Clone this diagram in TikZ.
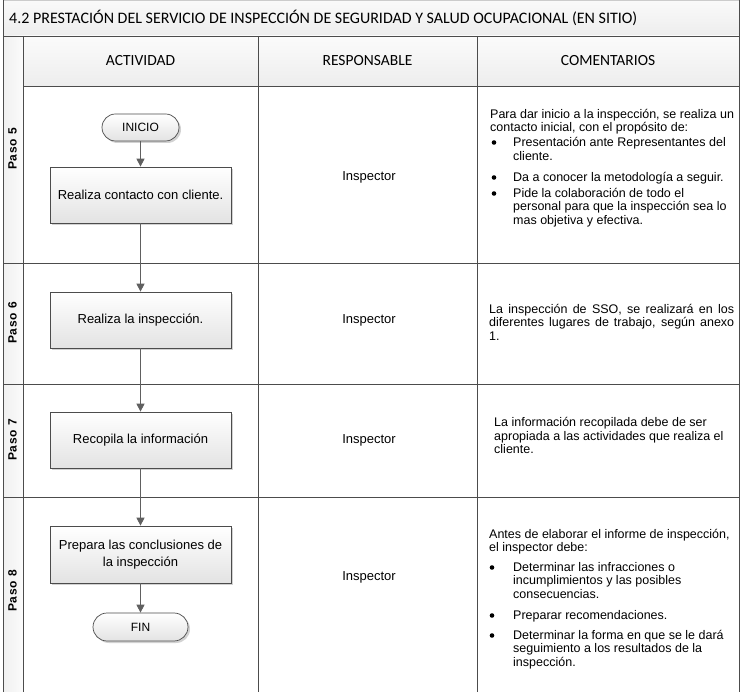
\documentclass[tikz,border=0pt]{standalone}
\usepackage{fontspec}
\setmainfont{Liberation Sans}
\newfontfamily\calib{Carlito}
\newfontfamily\pasof[LetterSpace=6]{Liberation Sans Bold}
\usetikzlibrary{arrows.meta,shadows}
\begin{document}
\begin{tikzpicture}[x=1pt,y=-1pt,
  grid/.style={draw=gray!60!black, line width=0.9pt},
  procbox/.style={draw=gray!60!black, line width=0.7pt, top color=white, bottom color=gray!22,
    minimum width=181pt, minimum height=56pt, inner sep=2pt, align=center,
    font=\fontsize{13}{17}\selectfont,
    drop shadow={shadow xshift=2pt, shadow yshift=-2pt, opacity=0.35, fill=gray}},
  termbox/.style={procbox, rounded corners=13.5pt, minimum height=27pt, font=\fontsize{12}{14}\selectfont},
  flow/.style={draw=gray!75!black, line width=0.9pt, -{Triangle[length=8pt,width=8pt]}},
  hdr/.style={font=\calib\fontsize{15.5}{17}\selectfont, inner sep=0pt},
  ttl/.style={font=\calib\fontsize{16}{18}\selectfont, inner sep=0pt},
  resp/.style={font=\fontsize{13}{15}\selectfont, inner sep=0pt},
  paso/.style={font=\pasof\fontsize{12}{14}\selectfont, rotate=90, inner sep=0pt},
  cl/.style={font=\fontsize{12.5}{14}\selectfont, inner sep=0pt, anchor=base west},
  bl/.style={circle, fill=black, inner sep=0pt, minimum size=4.6pt},
]
\useasboundingbox (0,0) rectangle (742,692);
\fill[white] (0,0) rectangle (742,692);

% backgrounds
\shade[top color=gray!4, bottom color=gray!14] (3.5,0.5) rectangle (739.5,36);
\shade[top color=gray!3, bottom color=gray!14] (23,36) rectangle (739.5,86);
\foreach \a/\b in {36/263,263/384,384/497,497/692}
  \shade[left color=gray!12, right color=gray!3] (3.5,\a) rectangle (23,\b);

% grid
\draw[grid, draw=gray!40] (3.5,0.5) -- (739.5,0.5);
\draw[grid] (3.5,0) -- (3.5,692);
\draw[grid] (739.5,0) -- (739.5,692);
\draw[grid] (23,36) -- (23,692);
\draw[grid] (258,36) -- (258,692);
\draw[grid] (477,36) -- (477,692);
\draw[grid] (3.5,36) -- (739.5,36);
\draw[grid] (23,86) -- (739.5,86);
\draw[grid] (3.5,263) -- (739.5,263);
\draw[grid] (3.5,384) -- (739.5,384);
\draw[grid] (3.5,497) -- (739.5,497);

% title and headers
\node[ttl, anchor=west] (title) at (9,18) {4.2 PRESTACIÓN DEL SERVICIO DE INSPECCIÓN DE SEGURIDAD Y SALUD OCUPACIONAL (EN SITIO)};
\node[hdr] (hact) at (140.5,61) {ACTIVIDAD};
\node[hdr] (hresp) at (367.5,61) {RESPONSABLE};
\node[hdr] (hcom) at (608,61) {COMENTARIOS};

% paso labels
\node[paso] (p5) at (12.5,149) {Paso 5};
\node[paso] (p6) at (12.5,323) {Paso 6};
\node[paso] (p7) at (12.5,440) {Paso 7};
\node[paso] (p8) at (12.5,591) {Paso 8};

% flow
\node[termbox, minimum width=77pt] (ini) at (140.5,127.5) {INICIO};
\node[procbox] (b1) at (140.5,195) {Realiza contacto con cliente.};
\node[procbox] (b2) at (140.5,320) {Realiza la inspección.};
\node[procbox] (b3) at (140.5,440) {Recopila la información};
\node[procbox, minimum height=57pt] (b4) at (140.5,554.5) {Prepara las conclusiones de\\la inspección};
\node[termbox, minimum width=95pt, minimum height=28pt, rounded corners=14pt] (fin) at (140.5,627) {FIN};

\draw[flow] (ini) -- (b1);
\draw[flow] (b1) -- (b2);
\draw[flow] (b2) -- (b3);
\draw[flow] (b3) -- (b4);
\draw[flow] (b4) -- (fin);

% responsable
\node[resp] (r5) at (369,177) {Inspector};
\node[resp] (r6) at (369,320) {Inspector};
\node[resp] (r7) at (369,440) {Inspector};
\node[resp] (r8) at (369,577) {Inspector};

% comentarios paso 5
\node[cl] (c51) at (490,118.3) {Para dar inicio a la inspección, se realiza un};
\node[cl] (c52) at (490,131.3) {contacto inicial, con el propósito de:};
\node[bl] (d51) at (494,142.5) {};
\node[cl] (c53) at (513,146.3) {Presentación ante Representantes del};
\node[cl] (c54) at (513,160.3) {cliente.};
\node[bl] (d52) at (494,177.5) {};
\node[cl] (c55) at (513,181.3) {Da a conocer la metodología a seguir.};
\node[bl] (d53) at (494,193.5) {};
\node[cl] (c56) at (513,197.3) {Pide la colaboración de todo el};
\node[cl] (c57) at (513,210.3) {personal para que la inspección sea lo};
\node[cl] (c58) at (513,224.3) {mas objetiva y efectiva.};

% comentarios paso 6
\node[cl] (c61) at (489,313.3) {\makebox[245pt][s]{La inspección de SSO, se realizará en los}};
\node[cl] (c62) at (489,326.3) {\makebox[245pt][s]{diferentes lugares de trabajo, según anexo}};
\node[cl] (c63) at (489,340.3) {1.};

% comentarios paso 7
\node[cl] (c71) at (494,426.3) {La información recopilada debe de ser};
\node[cl] (c72) at (494,440.3) {apropiada a las actividades que realiza el};
\node[cl] (c73) at (494,453.3) {cliente.};

% comentarios paso 8
\node[cl] (c81) at (489,538.3) {Antes de elaborar el informe de inspección,};
\node[cl] (c82) at (489,551.3) {el inspector debe:};
\node[bl] (d81) at (492,567.5) {};
\node[cl] (c83) at (513,571.3) {Determinar las infracciones o};
\node[cl] (c84) at (513,584.3) {incumplimientos y las posibles};
\node[cl] (c85) at (513,598.3) {consecuencias.};
\node[bl] (d82) at (492,615.5) {};
\node[cl] (c86) at (513,619.3) {Preparar recomendaciones.};
\node[bl] (d83) at (492,635.5) {};
\node[cl] (c87) at (513,639.3) {Determinar la forma en que se le dará};
\node[cl] (c88) at (513,652.3) {seguimiento a los resultados de la};
\node[cl] (c89) at (513,666.3) {inspección.};
\end{tikzpicture}
\end{document}
